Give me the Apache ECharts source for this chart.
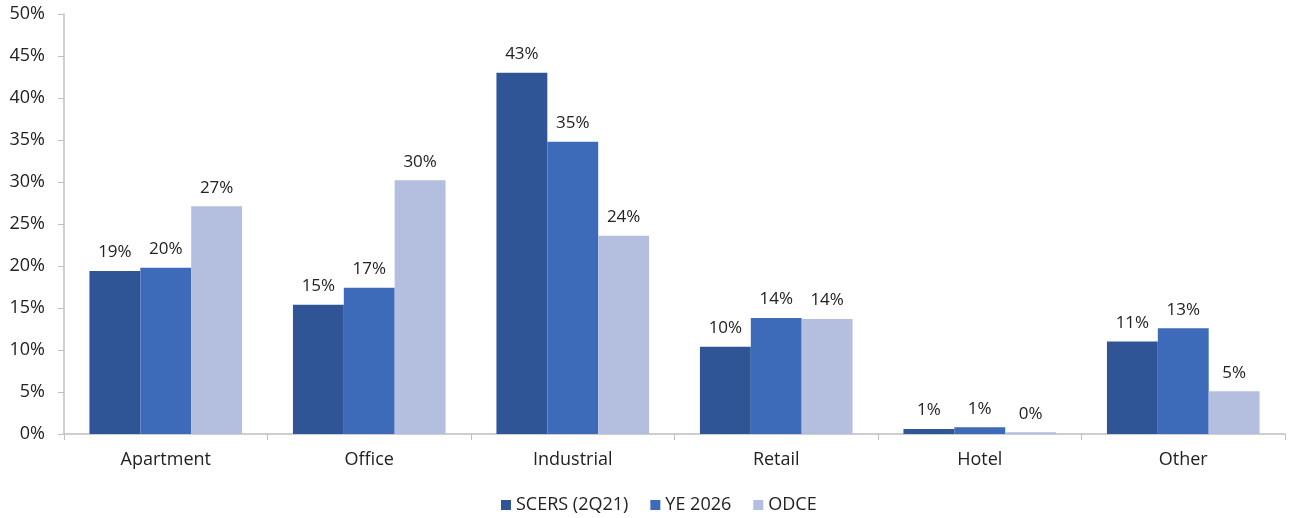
<!DOCTYPE html>
<html>
<head>
<meta charset="utf-8">
<script src="https://cdn.jsdelivr.net/npm/echarts@6/dist/echarts.min.js"></script>
<style>
html, body { margin: 0; padding: 0; background: #fff; }
#chart { width: 1291px; height: 518px; }
</style>
</head>
<body>
<div id="chart"></div>
<script>
var categories = ['Apartment', 'Office', 'Industrial', 'Retail', 'Hotel', 'Other'];
var seriesNames = ['SCERS (2Q21)', 'YE 2026', 'ODCE'];
var scers = [19.4, 15.4, 43.0, 10.4, 0.6, 11.0];
var ye2026 = [19.8, 17.4, 34.8, 13.8, 0.8, 12.6];
var odce = [27.1, 30.2, 23.6, 13.7, 0.2, 5.1];
var colors = ['#2F5597', '#3D6BB9', '#B4BFE0'];

var chart = echarts.init(document.getElementById('chart'));
var font = 'Open Sans';

function makeSeries(name, data, color) {
	return {
		name: name,
		type: 'bar',
		data: data,
		barGap: 0,
		barCategoryGap: '25%',
		itemStyle: { color: color },
		label: {
			show: true,
			position: 'top',
			distance: 10,
			color: '#222',
			fontFamily: font,
			fontSize: 17,
			formatter: function (p) { return Math.round(p.value) + '%'; }
		}
	};
}

var option = {
	animation: false,
	color: colors,
	grid: { left: 64, right: 6, top: 14, bottom: 84 },
	legend: {
		bottom: -1,
		left: 496,
		itemWidth: 10,
		itemHeight: 10,
		itemGap: 22,
		icon: 'rect',
		textStyle: { fontFamily: font, fontSize: 18, color: '#222' },
		data: seriesNames
	},
	xAxis: {
		type: 'category',
		data: categories,
		axisLine: { lineStyle: { color: '#BFBFBF', width: 1.5 } },
		axisTick: { show: true, length: 6, lineStyle: { color: '#BFBFBF' } },
		axisLabel: { fontFamily: font, fontSize: 18, color: '#222', margin: 17 }
	},
	yAxis: {
		type: 'value',
		min: 0,
		max: 50,
		interval: 5,
		axisLine: { show: true, lineStyle: { color: '#BFBFBF', width: 1.5 } },
		axisTick: { show: true, length: 6, lineStyle: { color: '#BFBFBF' } },
		splitLine: { show: false },
		axisLabel: { fontFamily: font, fontSize: 18, color: '#222', margin: 19,
			formatter: '{value}%' }
	},
	series: [
		makeSeries(seriesNames[0], scers, colors[0]),
		makeSeries(seriesNames[1], ye2026, colors[1]),
		makeSeries(seriesNames[2], odce, colors[2])
	]
};
chart.setOption(option);
</script>
</body>
</html>
